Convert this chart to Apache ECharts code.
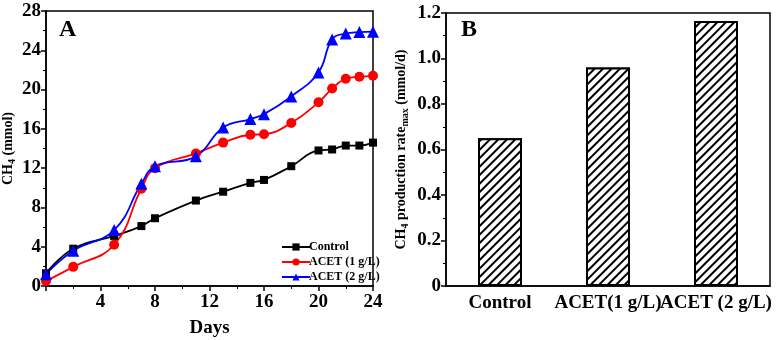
<!DOCTYPE html>
<html lang="en">
<head>
    <meta charset="UTF-8">
    <title>CH4 production</title>
    <script src="https://cdn.jsdelivr.net/npm/echarts@6.0.0/dist/echarts.min.js"></script>
    <style>
        html, body { margin: 0; padding: 0; background: #fff; }
        #chart { width: 776px; height: 340px; }
    </style>
</head>
<body>
    <div id="chart"></div>
    <script>
        // panel A: cumulative CH4 (mmol)
        var days = [0, 2, 5, 7, 8, 11, 13, 15, 16, 18, 20, 21, 22, 23, 24];
        var control = [1.3, 3.8, 5.1, 6.1, 6.9, 8.7, 9.6, 10.5, 10.8, 12.2, 13.8, 13.9, 14.3, 14.3, 14.6];
        var acet1 = [0.5, 1.95, 4.2, 9.9, 12.0, 13.5, 14.6, 15.4, 15.45, 16.6, 18.7, 20.1, 21.1, 21.3, 21.4];
        var acet2 = [1.2, 3.6, 5.7, 10.4, 12.2, 13.2, 16.15, 17.0, 17.5, 19.3, 21.75, 25.1, 25.7, 25.85, 25.9];
        var seriesNames = ['Control', 'ACET (1 g/L)', 'ACET (2 g/L)'];

        // panel B: max production rate (mmol/d)
        var rateCats = ['Control', 'ACET(1 g/L)', 'ACET (2 g/L)'];
        var rateVals = [0.65, 0.96, 1.165];

        var font = 'Liberation Serif';

        function pairs(vals) {
            return days.map(function (d, i) { return [d, vals[i]]; });
        }

        var tickLbl = { fontFamily: font, fontWeight: 'bold', fontSize: 19, color: '#000' };
        var axLine = { show: true, lineStyle: { color: '#000', width: 1.5 } };
        var rich = {
            a: { fontFamily: font, fontWeight: 'bold', fontSize: 14, color: '#000' },
            s: { fontFamily: font, fontWeight: 'bold', fontSize: 10, color: '#000', padding: [7, 0, 0, 0] }
        };

        var chart = echarts.init(document.getElementById('chart'));
        chart.setOption({
            animation: false,
            title: [
                { text: 'A', left: 54, top: 13, textStyle: { fontFamily: font, fontWeight: 'bold', fontSize: 24, color: '#000' } },
                { text: 'B', left: 456, top: 13, textStyle: { fontFamily: font, fontWeight: 'bold', fontSize: 24, color: '#000' } }
            ],
            legend: {
                data: seriesNames,
                orient: 'vertical',
                left: 276,
                top: 236,
                itemGap: 3,
                itemWidth: 28,
                itemHeight: 9,
                textStyle: { fontFamily: font, fontWeight: 'bold', fontSize: 12, color: '#000', padding: [0, 0, 0, -6] }
            },
            grid: [
                { left: 46, top: 11, width: 327, height: 275, outerBoundsMode: 'none', show: true, borderColor: '#000', borderWidth: 1.5 },
                { left: 446, top: 13, width: 324, height: 273, outerBoundsMode: 'none', show: true, borderColor: '#000', borderWidth: 1.5 }
            ],
            xAxis: [
                {
                    gridIndex: 0, type: 'value', min: 0, max: 24, interval: 4,
                    name: 'Days', nameLocation: 'middle', nameGap: 33,
                    nameTextStyle: { fontFamily: font, fontWeight: 'bold', fontSize: 19, color: '#000' },
                    axisLine: axLine,
                    axisTick: { show: true, inside: false, length: 5, lineStyle: { color: '#000', width: 1.5 } },
                    minorTick: { show: true, splitNumber: 2, length: 3, lineStyle: { color: '#000' } },
                    splitLine: { show: false },
                    axisLabel: Object.assign({ margin: 7, formatter: function (v) { return v === 0 ? '' : v; } }, tickLbl)
                },
                {
                    gridIndex: 1, type: 'category', data: rateCats,
                    axisLine: axLine,
                    axisTick: { show: false },
                    axisLabel: Object.assign({ margin: 8, interval: 0 }, tickLbl)
                }
            ],
            yAxis: [
                {
                    gridIndex: 0, type: 'value', min: 0, max: 28, interval: 4,
                    name: '{a|CH}{s|4}{a| (mmol)}', nameLocation: 'middle', nameGap: 29,
                    nameTextStyle: { rich: rich },
                    axisLine: axLine,
                    axisTick: { show: true, inside: false, length: 5, lineStyle: { color: '#000', width: 1.5 } },
                    minorTick: { show: true, splitNumber: 2, length: 3, lineStyle: { color: '#000' } },
                    splitLine: { show: false },
                    axisLabel: Object.assign({ margin: 5 }, tickLbl)
                },
                {
                    gridIndex: 1, type: 'value', min: 0, max: 1.2, interval: 0.2,
                    name: '{a|CH}{s|4}{a| production rate}{s|max}{a| (mmol/d)}', nameLocation: 'middle', nameGap: 36,
                    nameTextStyle: { rich: rich },
                    axisLine: axLine,
                    axisTick: { show: true, inside: false, length: 5, lineStyle: { color: '#000', width: 1.5 } },
                    minorTick: { show: true, splitNumber: 2, length: 3, lineStyle: { color: '#000' } },
                    splitLine: { show: false },
                    axisLabel: Object.assign({ margin: 5, formatter: function (v) { return v === 0 ? '0' : v.toFixed(1); } }, tickLbl)
                }
            ],
            series: [
                {
                    name: seriesNames[0], type: 'line', xAxisIndex: 0, yAxisIndex: 0,
                    data: pairs(control), smooth: 0.45,
                    symbol: 'rect', symbolSize: 8,
                    lineStyle: { color: '#000', width: 1.8 }, itemStyle: { color: '#000' }
                },
                {
                    name: seriesNames[1], type: 'line', xAxisIndex: 0, yAxisIndex: 0,
                    data: pairs(acet1), smooth: 0.45,
                    symbol: 'circle', symbolSize: 10,
                    lineStyle: { color: '#ff0000', width: 1.8 }, itemStyle: { color: '#ff0000' }
                },
                {
                    name: seriesNames[2], type: 'line', xAxisIndex: 0, yAxisIndex: 0,
                    data: pairs(acet2), smooth: 0.45,
                    symbol: 'triangle', symbolSize: 12,
                    lineStyle: { color: '#0000ff', width: 1.8 }, itemStyle: { color: '#0000ff' }
                },
                {
                    type: 'bar', xAxisIndex: 1, yAxisIndex: 1,
                    data: rateVals, barWidth: 44,
                    itemStyle: {
                        color: '#fff', borderColor: '#000', borderWidth: 2,
                        decal: {
                            symbol: 'rect', color: '#000', backgroundColor: '#fff',
                            dashArrayX: [1, 0], dashArrayY: [1.3, 3.2], rotation: -Math.PI / 4
                        }
                    }
                }
            ]
        });
    </script>
</body>
</html>
